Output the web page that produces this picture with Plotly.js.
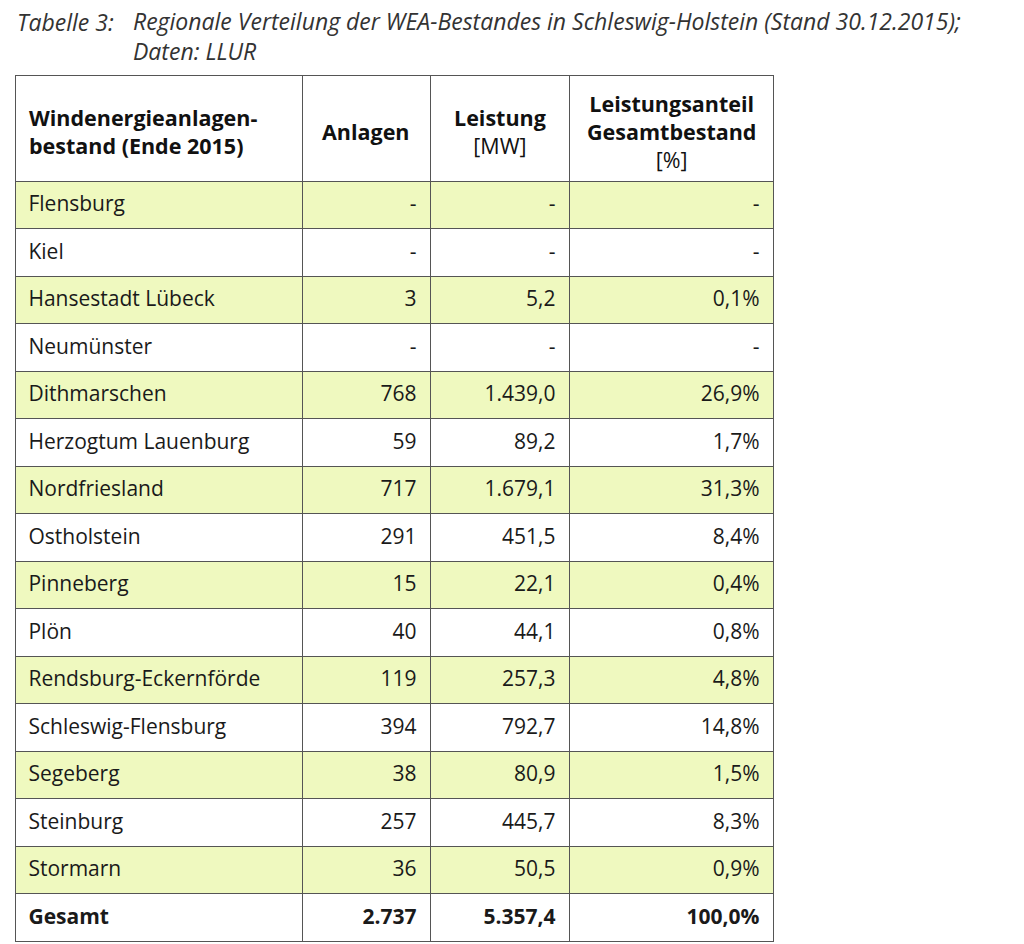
<!DOCTYPE html>
<html>
<head>
<meta charset="utf-8">
<script src="https://cdn.plot.ly/plotly-3.0.1.min.js"></script>
<style>html,body{margin:0;padding:0;background:#fff;}</style>
</head>
<body>
<div id="chart" style="width:1024px;height:944px;"></div>
<script>
// ---- data ----
const regions = ["Flensburg", "Kiel", "Hansestadt Lübeck", "Neumünster", "Dithmarschen",
  "Herzogtum Lauenburg", "Nordfriesland", "Ostholstein", "Pinneberg", "Plön",
  "Rendsburg-Eckernförde", "Schleswig-Flensburg", "Segeberg", "Steinburg", "Stormarn"];
const anlagen = [null, null, 3, null, 768, 59, 717, 291, 15, 40, 119, 394, 38, 257, 36];
const leistung = [null, null, 5.2, null, 1439.0, 89.2, 1679.1, 451.5, 22.1, 44.1, 257.3, 792.7, 80.9, 445.7, 50.5];
const anteil = [null, null, 0.1, null, 26.9, 1.7, 31.3, 8.4, 0.4, 0.8, 4.8, 14.8, 1.5, 8.3, 0.9];
const totalLabel = "Gesamt";
const totalAnlagen = 2737;
const totalLeistung = 5357.4;
const totalAnteil = 100.0;
const headerCol1 = ["Windenergieanlagen-", "bestand (Ende 2015)"];
const headerCol2 = ["Anlagen"];
const headerCol3 = ["Leistung", "[MW]"];
const headerCol4 = ["Leistungsanteil", "Gesamtbestand", "[%]"];
const titleLabel = "Tabelle 3:";
const titleLines = ["Regionale Verteilung der WEA-Bestandes in Schleswig-Holstein (Stand 30.12.2015);", "Daten: LLUR"];

// ---- formatting (German) ----
function fmt(v, dec) {
  if (v === null || v === undefined) return "-";
  const s = v.toFixed(dec);
  let [i, d] = s.split(".");
  i = i.replace(/\B(?=(\d{3})+(?!\d))/g, ".");
  return d !== undefined ? i + "," + d : i;
}
const sp = t => "<span>" + t + "</span>";
const PADR = " ";
const PADL = " ";
const col1 = regions.map(r => sp(PADL + r)).concat([PADL + "<b>" + totalLabel + "</b>"]);
const col2 = anlagen.map(v => sp(fmt(v, 0) + PADR)).concat(["<b>" + fmt(totalAnlagen, 0) + "</b>" + PADR]);
const col3 = leistung.map(v => sp(fmt(v, 1) + PADR)).concat(["<b>" + fmt(totalLeistung, 1) + "</b>" + PADR]);
const col4 = anteil.map(v => sp((v === null ? "-" : fmt(v, 1) + "%") + PADR)).concat(["<b>" + fmt(totalAnteil, 1) + "%</b>" + PADR]);

const GREEN = "#eff9bf";
const rowFill = regions.map((r, i) => i % 2 === 0 ? GREEN : "#ffffff").concat(["#ffffff"]);

const W = 1024, H = 944;
const tLeft = 15, tRight = 773, tTop = 75, tBottom = 942;
const colEdges = [15, 302, 430, 569, 773];
const headerH = 106;
const rowH = 47.5;

const trace = {
  type: "table",
  domain: { x: [tLeft / W, tRight / W], y: [1 - tBottom / H, 1 - tTop / H] },
  columnwidth: [287, 128, 139, 204],
  header: {
    values: ["", "", "", ""],
    height: headerH,
    fill: { color: "#ffffff" },
    line: { color: "#555555", width: 1 }
  },
  cells: {
    values: [col1, col2, col3, col4],
    height: rowH,
    align: ["left", "right", "right", "right"],
    fill: { color: [rowFill, rowFill, rowFill, rowFill] },
    line: { color: "#555555", width: 1 },
    font: { family: "Open Sans, sans-serif", size: 21, color: "#1a1a1a" }
  }
};

const ann = [];
function px(x) { return x / W; }
function py(y) { return 1 - y / H; }
const hfont = { family: "Open Sans, sans-serif", size: 21.5, color: "#111111" };
ann.push({ xref: "paper", yref: "paper", x: px(27), y: py(132), xanchor: "left", yanchor: "middle",
  text: "<b>" + headerCol1.join("<br>") + "</b>", showarrow: false, align: "left", font: hfont });
ann.push({ xref: "paper", yref: "paper", x: px((colEdges[1] + colEdges[2]) / 2), y: py(132), xanchor: "center", yanchor: "middle",
  text: "<b>" + headerCol2.join("<br>") + "</b>", showarrow: false, align: "center", font: hfont });
ann.push({ xref: "paper", yref: "paper", x: px((colEdges[2] + colEdges[3]) / 2), y: py(132), xanchor: "center", yanchor: "middle",
  text: "<b>" + headerCol3[0] + "</b><br>" + headerCol3[1], showarrow: false, align: "center", font: hfont });
ann.push({ xref: "paper", yref: "paper", x: px((colEdges[3] + colEdges[4]) / 2), y: py(131), xanchor: "center", yanchor: "middle",
  text: "<b>" + headerCol4[0] + "</b><br><b>" + headerCol4[1] + "</b><br>" + headerCol4[2], showarrow: false, align: "center", font: hfont });

const tfont = { family: "Open Sans, sans-serif", size: 23, color: "#333333" };
ann.push({ xref: "paper", yref: "paper", x: px(15), y: py(22), xanchor: "left", yanchor: "middle",
  text: "<i>" + titleLabel + "</i>", showarrow: false, font: tfont });
ann.push({ xref: "paper", yref: "paper", x: px(131), y: py(36), xanchor: "left", yanchor: "middle",
  text: titleLines.map(t => "<i>" + t + "</i>").join("<br>"), showarrow: false, align: "left", font: tfont });

const layout = {
  width: W, height: H,
  margin: { l: 0, r: 0, t: 0, b: 0 },
  paper_bgcolor: "#ffffff",
  annotations: ann
};

Plotly.newPlot("chart", [trace], layout, { displayModeBar: false, staticPlot: true });
</script>
</body>
</html>
